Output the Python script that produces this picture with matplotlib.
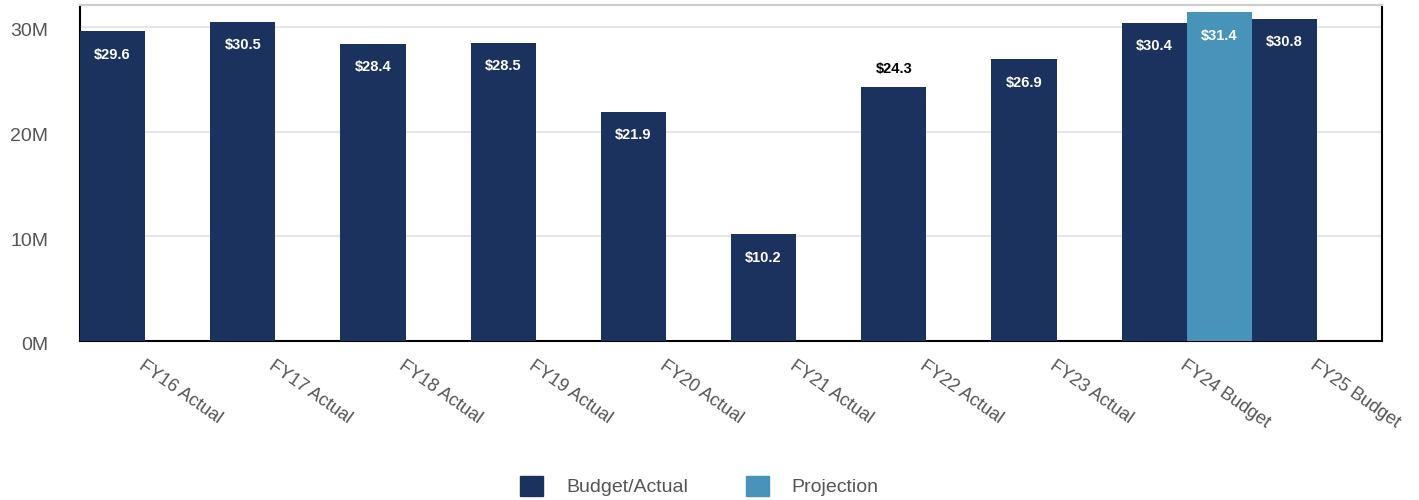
import numpy as np
import matplotlib.pyplot as plt
import matplotlib.transforms as mtransforms
from matplotlib.patches import Patch

# ---------------------- DATA ----------------------
categories = ["FY16 Actual", "FY17 Actual", "FY18 Actual", "FY19 Actual", "FY20 Actual",
              "FY21 Actual", "FY22 Actual", "FY23 Actual", "FY24 Budget", "FY25 Budget"]
budget_actual = [29.6, 30.5, 28.4, 28.5, 21.9, 10.2, 24.3, 26.9, 30.4, 30.8]
projection = [None, None, None, None, None, None, None, None, 31.4, None]
# labels drawn above the bar instead of inside it
outside_labels = {"FY22 Actual"}

NAVY = "#1b325e"
LIGHT = "#4793ba"
GRAY = "#555555"

plt.rcParams["font.family"] = ["Liberation Sans", "DejaVu Sans"]

fig = plt.figure(figsize=(14.19, 5), dpi=100)
ax = fig.add_axes([0.0564, 0.318, 0.9176, 0.672])

x = np.arange(len(categories))
w = 0.5
LBL = dict(fontsize=10.5, fontweight="bold")

bars = ax.bar(x - w / 2, budget_actual, width=w, color=NAVY, zorder=3)
for i, (b, v) in enumerate(zip(bars, budget_actual)):
    cx = b.get_x() + b.get_width() / 2
    if categories[i] in outside_labels:
        ax.annotate(f"${v:.1f}", (cx, v), xytext=(0, 8), textcoords="offset points",
                    ha="center", va="bottom", color="black", **LBL)
    else:
        ax.annotate(f"${v:.1f}", (cx, v), xytext=(0, -17), textcoords="offset points",
                    ha="center", va="center", color="white", **LBL)

for i, v in enumerate(projection):
    if v is None:
        continue
    ax.bar(x[i] + w / 2, v, width=w, color=LIGHT, zorder=3)
    ax.annotate(f"${v:.1f}", (x[i] + w / 2, v), xytext=(0, -17), textcoords="offset points",
                ha="center", va="center", color="white", **LBL)

ax.set_xlim(-0.5, len(categories) - 0.5)
ax.set_ylim(0, 32.1)
ax.set_yticks([0, 10, 20, 30])
ax.set_yticklabels(["0M", "10M", "20M", "30M"])
ax.yaxis.grid(True, color="#e6e6e6", linewidth=1.5, zorder=0)
ax.set_axisbelow(True)

ax.set_xticks(x)
ax.set_xticklabels(categories, rotation=-35, ha="left", va="top", rotation_mode="anchor")
ax.tick_params(axis="x", length=0, pad=11.5, labelsize=13, labelcolor=GRAY)
ax.tick_params(axis="y", length=0, pad=23, labelsize=14, labelcolor=GRAY)

# nudge y labels slightly downward
shift = mtransforms.ScaledTranslation(0, -3 / 100, fig.dpi_scale_trans)
for lab in ax.get_yticklabels():
    lab.set_transform(lab.get_transform() + shift)

for s in ax.spines.values():
    s.set_color("black")
    s.set_linewidth(1.5)
ax.spines["top"].set_color("#cccccc")

handles = [Patch(color=NAVY, label="Budget/Actual"), Patch(color=LIGHT, label="Projection")]
fig.legend(handles=handles, loc="lower center", bbox_to_anchor=(0.493, -0.028), ncol=2,
           frameon=False, fontsize=14, labelcolor=GRAY, handlelength=1.15, handleheight=1.15,
           columnspacing=3.0, handletextpad=1.2)

fig.savefig("out.png", dpi=100)
